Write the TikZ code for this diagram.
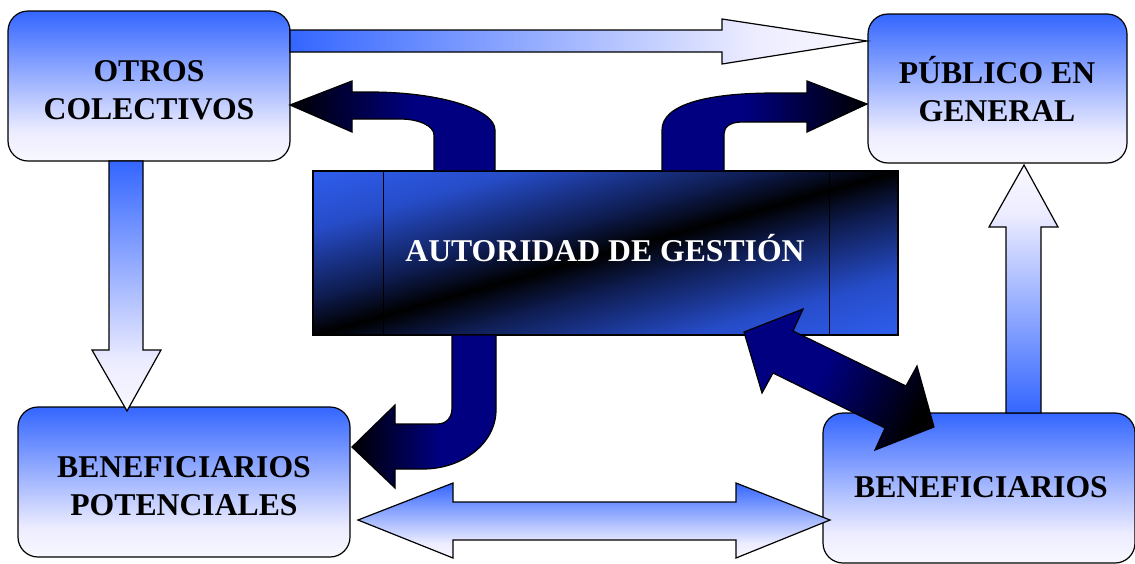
\documentclass[tikz,border=0pt]{standalone}
\usepackage{fontspec}
\setmainfont{Liberation Serif}
\usetikzlibrary{calc}
\definecolor{lblue}{RGB}{52,102,255}
\definecolor{lwhite}{RGB}{248,248,255}
\definecolor{lwhiteb}{RGB}{236,236,255}
\definecolor{dnavy}{RGB}{0,0,128}
\definecolor{agblue}{RGB}{51,102,255}
\definecolor{agmid}{RGB}{38,76,200}
\definecolor{agdark}{RGB}{14,28,80}
\pgfdeclareverticalshading{lightV}{100bp}{color(0bp)=(lwhite); color(25bp)=(lwhite); color(35bp)=(lwhiteb); color(75bp)=(lblue); color(100bp)=(lblue)}
\pgfdeclarehorizontalshading{darkH}{100bp}{color(0bp)=(black); color(25bp)=(black); color(55bp)=(dnavy); color(100bp)=(dnavy)}
\pgfdeclareverticalshading{agshade}{100bp}{color(0bp)=(agblue); color(14bp)=(agblue); color(30bp)=(agmid); color(43bp)=(agdark); color(50bp)=(black); color(57bp)=(agdark); color(70bp)=(agmid); color(86bp)=(agblue); color(100bp)=(agblue)}
\tikzset{
  box/.style={draw=black, line width=1.2pt, rounded corners=20pt, shade, shading=lightV, inner sep=0pt},
  lbl/.style={font=\fontsize{31.7}{38}\selectfont\bfseries, align=center, inner sep=0pt},
  larrow/.style={draw=black, line width=1.2pt, shade, shading=lightV},
  darrow/.style={draw=black, line width=1.2pt, shade, shading=darkH},
  agbox/.style={draw=black, line width=1.2pt, shade, shading=agshade, shading angle=15.7, inner sep=0pt}
}
\begin{document}
\begin{tikzpicture}[x=1pt, y=-1pt]
\useasboundingbox (0,0) rectangle (1135,563);
% boxes
\node[box, minimum width=282pt, minimum height=150pt] (oc) at (149,86) {};
\node[box, minimum width=259pt, minimum height=149pt] (pg) at (997.5,88.5) {};
\node[box, minimum width=332pt, minimum height=150pt] (bp) at (184,482) {};
\node[box, minimum width=312pt, minimum height=150pt] (bn) at (979,488) {};
\node[agbox, minimum width=585pt, minimum height=164pt] (ag) at (605.5,253) {};
\draw[line width=1.2pt] ($(ag.north west)+(71,0)$) -- ($(ag.south west)+(71,0)$);
\draw[line width=1.2pt] ($(ag.north east)+(-69,0)$) -- ($(ag.south east)+(-69,0)$);
% texts
\node[lbl] (oct) at (149,90) {OTROS\\COLECTIVOS};
\node[lbl] (pgt) at (997,88.75) {PÚBLICO EN\\GENERAL};
\node[lbl] (bpt) at (184,486) {BENEFICIARIOS\\POTENCIALES};
\node[lbl] (bnt) at (981,487) {BENEFICIARIOS};
\node[lbl, text=white] (agt) at (605,247.75) {AUTORIDAD DE GESTIÓN};
% light block arrows
\path[larrow, shading angle=90] (290,30) -- (722,30) -- (722,19) -- (867,41) -- (722,64) -- (722,52) -- (290,52) -- cycle;
\path[larrow] (109,161) -- (143,161) -- (143,350) -- (161,350) -- (127,411) -- (92,350) -- (109,350) -- cycle;
\path[larrow, shading angle=180] (1006,413) -- (1041,413) -- (1041,227) -- (1058,227) -- (1024,165) -- (989,227) -- (1006,227) -- cycle;
\path[larrow] (358,520) -- (453,483) -- (453,502) -- (736,502) -- (736,483) -- (830,520) -- (736,558) -- (736,540) -- (453,540) -- (453,558) -- cycle;
% dark block arrows
\path[darrow] (434,171) -- (434,135) .. controls (434,126) and (419,119) .. (400,119) -- (352,119) -- (352,132) -- (290,105) -- (352,81) -- (352,92) -- (370,92) .. controls (439,92) and (495,109) .. (495,130) -- (495,171) -- cycle;
\path[darrow, shading angle=180] (662,171) -- (662,130) .. controls (662,105) and (705,93) .. (775,93) -- (807,93) -- (807,81) -- (867,104) -- (807,132) -- (807,122) -- (742,122) .. controls (730,122) and (724,127) .. (724,134) -- (724,171) -- cycle;
\path[darrow] (452,335) -- (452,408) .. controls (452,418) and (446,424) .. (437,424) -- (395,424) -- (395,405) -- (352,447) -- (395,488) -- (395,469) -- (423,469) .. controls (463,469) and (496,443) .. (496,410) -- (496,335) -- cycle;
\path[darrow, shading angle=153.4] (744,332) -- (803,309) -- (793,331) -- (906,386) -- (917,366) -- (934,427) -- (875,450) -- (885,428) -- (773,373) -- (762,393) -- cycle;
\end{tikzpicture}
\end{document}
